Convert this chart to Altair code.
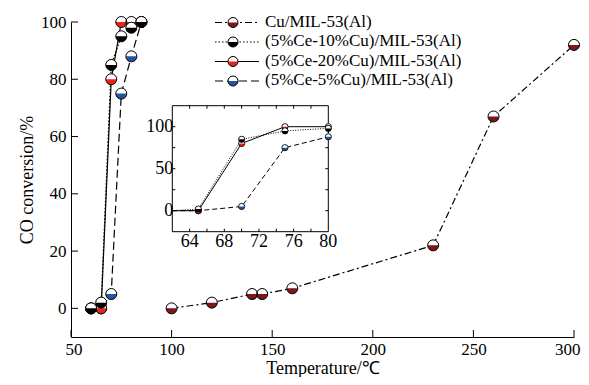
import altair as alt
import pandas as pd

# ---------------- data ----------------
temps_cu = [100, 120, 140, 145, 160, 230, 260, 300]
conv_cu = [0, 2, 5, 5, 7, 22, 67, 92]
temps_ce = [60, 65, 70, 75, 80, 85]
conv_ce5 = [0, 0, 5, 75, 88, 100]
conv_ce10 = [0, 2, 85, 95, 98, 100]
conv_ce20 = [0, 0, 80, 100, 100, 100]

names = ["Cu/MIL-53(Al)", "(5%Ce-10%Cu)/MIL-53(Al)",
         "(5%Ce-20%Cu)/MIL-53(Al)", "(5%Ce-5%Cu)/MIL-53(Al)"]

x_ticks = [50, 100, 150, 200, 250, 300]
y_ticks = [0, 20, 40, 60, 80, 100]
inset_x_labels = [64, 68, 72, 76, 80]
inset_x_minor = [64, 66, 68, 70, 72, 74, 76, 78]
inset_y_labels = [0, 50, 100]
inset_y_minor = [0, 25, 50, 75, 100]

# ---------------- styles / layout ----------------
FONT = "Liberation Serif"
W, H = 503, 315
style = {
    names[0]: dict(color="#7e1518", dash=[7, 3, 2, 3], idash=None, row=0),
    names[1]: dict(color="#000000", dash=[1.5, 2], idash=[1, 1.5], row=1),
    names[2]: dict(color="#e8231c", dash=None, idash=None, row=2),
    names[3]: dict(color="#2456a6", dash=[8, 4], idash=[5, 3], row=3),
}
HALF = "M -1 0 A 1 1 0 0 1 1 0 Z"

series = [
    (names[0], temps_cu, conv_cu),
    (names[3], temps_ce, conv_ce5),
    (names[2], temps_ce, conv_ce20),
    (names[1], temps_ce, conv_ce10),
]

xs = alt.Scale(domain=[50, 300], nice=False, zero=False)
ys = alt.Scale(domain=[-10, 100], nice=False, zero=False)

axis_common = dict(ticks=False, tickSize=0, grid=False, domainColor="black",
                   domainWidth=1, labelFont=FONT, labelFontSize=17,
                   labelColor="black", titleFont=FONT,
                   titleFontSize=18, titleFontWeight="normal", titleColor="black")
xaxis = alt.Axis(values=x_ticks, title="Temperature/℃", labelFlush=True,
                 labelFlushOffset=6, labelPadding=4, titleBaseline="alphabetic",
                 titleY=36, titleX=W / 2, **axis_common)
yaxis = alt.Axis(values=y_ticks, title="CO conversion/%", titleBaseline="alphabetic",
                 labelPadding=5, titleX=-39, titleY=H / 2, **axis_common)

# inset frame (plot coordinates)
IL, IR, IT, IB = 101.3, 257.3, 83.7, 209.7
ixs = alt.Scale(domain=[62, 80], range=[IL, IR], nice=False, zero=False, clamp=True)
iys = alt.Scale(domain=[-25, 125], range=[IB, IT], nice=False, zero=False, clamp=True)


def frame(name, t, c):
    return pd.DataFrame({"T": t, "C": c, "series": name})


def marker_layers(base, color, size, encx, ency, sw=1):
    a = base.mark_point(shape="circle", filled=True, fill=color, size=size,
                        opacity=1, strokeWidth=0).encode(x=encx, y=ency)
    b = base.mark_point(shape=HALF, filled=True, fill="white", size=size,
                        opacity=1, strokeWidth=0).encode(x=encx, y=ency)
    c = base.mark_point(shape="circle", filled=False, color="black", size=size,
                        opacity=1, strokeWidth=sw).encode(x=encx, y=ency)
    return [a, b, c]


# ---------------- main plot ----------------
main_layers = []
for name, t, c in series:
    st = style[name]
    kw = dict(color="black", strokeWidth=1.2)
    if st["dash"] is not None:
        kw["strokeDash"] = st["dash"]
    main_layers.append(alt.Chart(frame(name, t, c)).mark_line(**kw).encode(
        x=alt.X("T:Q", scale=xs, axis=xaxis), y=alt.Y("C:Q", scale=ys, axis=yaxis)))
for name, t, c in series:
    st = style[name]
    main_layers += marker_layers(alt.Chart(frame(name, t, c)), st["color"], 121,
                                 alt.X("T:Q", scale=xs, axis=xaxis),
                                 alt.Y("C:Q", scale=ys, axis=yaxis))

# inward ticks
main_layers.append(alt.Chart(pd.DataFrame({"v": x_ticks})).mark_rule(
    color="black", strokeWidth=1).encode(
    x=alt.X("v:Q", scale=xs, axis=xaxis), y=alt.value(H), y2=alt.value(H - 7)))
main_layers.append(alt.Chart(pd.DataFrame({"v": y_ticks})).mark_rule(
    color="black", strokeWidth=1).encode(
    y=alt.Y("v:Q", scale=ys, axis=yaxis), x=alt.value(0), x2=alt.value(7)))

# legend
for name in names:
    st = style[name]
    ly = 0.5 + 19.5 * st["row"]
    one = alt.Chart(pd.DataFrame({"label": [name]}))
    kw = dict(color="black", strokeWidth=1.2)
    if st["dash"] is not None:
        kw["strokeDash"] = st["dash"]
    main_layers.append(one.mark_rule(**kw).encode(
        x=alt.value(144), x2=alt.value(188), y=alt.value(ly)))
    main_layers += marker_layers(one, st["color"], 100, alt.value(162), alt.value(ly))
    main_layers.append(one.mark_text(align="left", baseline="middle", font=FONT,
                                     fontSize=17, color="black").encode(
        x=alt.value(194), y=alt.value(ly - 1), text="label:N"))

main = alt.layer(*main_layers)

# ---------------- inset ----------------
ins = []
ins.append(alt.Chart(pd.DataFrame({"a": [0]})).mark_rect(
    fill="white", stroke="black", strokeWidth=1).encode(
    x=alt.value(IL), x2=alt.value(IR), y=alt.value(IT), y2=alt.value(IB)))
xm = alt.Chart(pd.DataFrame({"v": inset_x_minor}))
ym = alt.Chart(pd.DataFrame({"v": inset_y_minor}))
ix = alt.X("v:Q", scale=ixs, axis=None)
iy = alt.Y("v:Q", scale=iys, axis=None)
ins.append(xm.mark_rule(color="black", strokeWidth=1).encode(x=ix, y=alt.value(IB), y2=alt.value(IB - 3)))
ins.append(xm.mark_rule(color="black", strokeWidth=1).encode(x=ix, y=alt.value(IT), y2=alt.value(IT + 3)))
ins.append(ym.mark_rule(color="black", strokeWidth=1).encode(y=iy, x=alt.value(IL), x2=alt.value(IL + 3)))
ins.append(ym.mark_rule(color="black", strokeWidth=1).encode(y=iy, x=alt.value(IR), x2=alt.value(IR - 3)))

for name, t, c in series[1:]:
    st = style[name]
    kw = dict(color="black", strokeWidth=1)
    if st["idash"] is not None:
        kw["strokeDash"] = st["idash"]
    ins.append(alt.Chart(frame(name, t, c)).mark_line(**kw).encode(
        x=alt.X("T:Q", scale=ixs, axis=None), y=alt.Y("C:Q", scale=iys, axis=None)))
for name, t, c in series[1:]:
    st = style[name]
    base = alt.Chart(frame(name, t, c)).transform_filter(
        (alt.datum.T >= 62) & (alt.datum.T <= 80))
    ins += marker_layers(base, st["color"], 38,
                         alt.X("T:Q", scale=ixs, axis=None),
                         alt.Y("C:Q", scale=iys, axis=None), sw=0.8)

ins.append(alt.Chart(pd.DataFrame({"v": inset_x_labels})).mark_text(
    align="center", baseline="top", font=FONT, fontSize=18, color="black").encode(
    x=alt.X("v:Q", scale=ixs, axis=None), y=alt.value(IB + 1), text="v:Q"))
ins.append(alt.Chart(pd.DataFrame({"v": inset_y_labels})).mark_text(
    align="right", baseline="middle", font=FONT, fontSize=18, color="black").encode(
    y=alt.Y("v:Q", scale=iys, axis=None), x=alt.value(IL + 1), text="v:Q"))

inset = alt.layer(*ins)

chart = alt.layer(main, inset).resolve_scale(
    x="independent", y="independent").properties(
    width=W, height=H,
    autosize=alt.AutoSizeParams(type="none"),
    padding={"left": 63, "top": 14, "right": 7, "bottom": 40},
).configure_view(stroke=None)

chart.save("out.html", embed_options={"renderer": "svg", "actions": False})
